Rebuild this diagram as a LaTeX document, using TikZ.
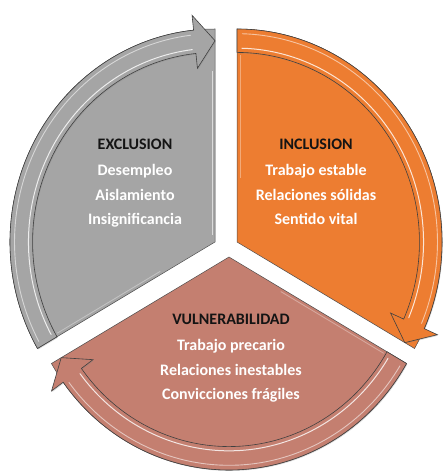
\documentclass[tikz,border=0pt]{standalone}
\usepackage{fontspec}
\setmainfont{Carlito}
\usetikzlibrary{shadows}
\definecolor{cgray}{HTML}{A5A5A5}
\definecolor{corange}{HTML}{ED7D31}
\definecolor{csalmon}{HTML}{C47F70}
\definecolor{ctitle}{HTML}{141414}
% #1 cx, #2 cy, #3 start angle of arrow, #4 end angle (tip), #5 colour
\newcommand{\segpiece}[5]{%
  % sector
  \filldraw[fill=#5, draw=black!70, line width=0.5pt]
    (#1,#2) -- ({#1+205*cos(#3)},{#2+213*sin(#3)})
    arc[start angle=#3, end angle=#4, x radius=205, y radius=213] -- cycle;
  % light bevel along straight edges
  \draw[white, opacity=0.35, line width=0.8pt]
    ({#1+0.3*205*cos(#3)+3*cos(#3-90)},{#2+0.3*213*sin(#3)+3*sin(#3-90)}) --
    ({#1+0.88*205*cos(#3)+3*cos(#3-90)},{#2+0.88*213*sin(#3)+3*sin(#3-90)});
  % circular arrow
  \filldraw[fill=#5, draw=black!75, line width=0.6pt,
            drop shadow={shadow xshift=0.8pt, shadow yshift=-1pt, opacity=0.3}]
    ({#1+205*cos(#3)},{#2+213*sin(#3)})
    arc[start angle=#3, end angle=#4+6, x radius=205, y radius=213]
    -- ({#1+1.07*205*cos(#4+6)},{#2+1.07*213*sin(#4+6)})
    -- ({#1+0.945*205*cos(#4)},{#2+0.945*213*sin(#4)})
    -- ({#1+0.82*205*cos(#4+6)},{#2+0.82*213*sin(#4+6)})
    -- ({#1+0.89*205*cos(#4+6)},{#2+0.89*213*sin(#4+6)})
    arc[start angle=#4+6, end angle=#3, x radius=0.89*205, y radius=0.89*213]
    -- cycle;
  % highlights on the arrow band
  \draw[white, opacity=0.55, line width=0.9pt, line cap=round]
    ({#1+0.978*205*cos(#3-1.5)},{#2+0.978*213*sin(#3-1.5)})
    arc[start angle=#3-1.5, end angle=#4+7, x radius=0.978*205, y radius=0.978*213];
  \draw[white, opacity=0.8, line width=1pt, line cap=round]
    ({#1+0.91*205*cos(#3-1.5)},{#2+0.91*213*sin(#3-1.5)})
    arc[start angle=#3-1.5, end angle=#4+7, x radius=0.91*205, y radius=0.91*213];
}
\tikzset{
  ttl/.style={anchor=base, text=ctitle, font=\fontsize{16}{19}\selectfont\bfseries, inner sep=0pt},
  itm/.style={anchor=base, text=white, font=\fontsize{16}{19}\selectfont\bfseries, inner sep=0pt}
}
\begin{document}
\begin{tikzpicture}[x=1pt, y=1pt]
\useasboundingbox (0,0) rectangle (442,471);
\segpiece{215}{229}{210}{90}{cgray}
\segpiece{237}{229}{90}{-30}{corange}
\segpiece{229}{214}{-30}{-150}{csalmon}
% bevel on the right edge of the grey sector
\draw[white, opacity=0.6, line width=0.9pt] (212,236) -- (212,400);
% texts
\node[ttl] (exT) at (135,321) {EXCLUSION};
\node[itm] (ex1) at (135,295) {Desempleo};
\node[itm] (ex2) at (135,270.5) {Aislamiento};
\node[itm] (ex3) at (135,246.5) {Insignificancia};
\node[ttl] (inT) at (316,321) {INCLUSION};
\node[itm] (in1) at (316,295) {Trabajo estable};
\node[itm] (in2) at (316,270.5) {Relaciones sólidas};
\node[itm] (in3) at (316,246.5) {Sentido vital};
\node[ttl] (vuT) at (231,146) {VULNERABILIDAD};
\node[itm] (vu1) at (231,120.3) {Trabajo precario};
\node[itm] (vu2) at (231,95.3) {Relaciones inestables};
\node[itm] (vu3) at (231,71) {Convicciones frágiles};
\end{tikzpicture}
\end{document}
